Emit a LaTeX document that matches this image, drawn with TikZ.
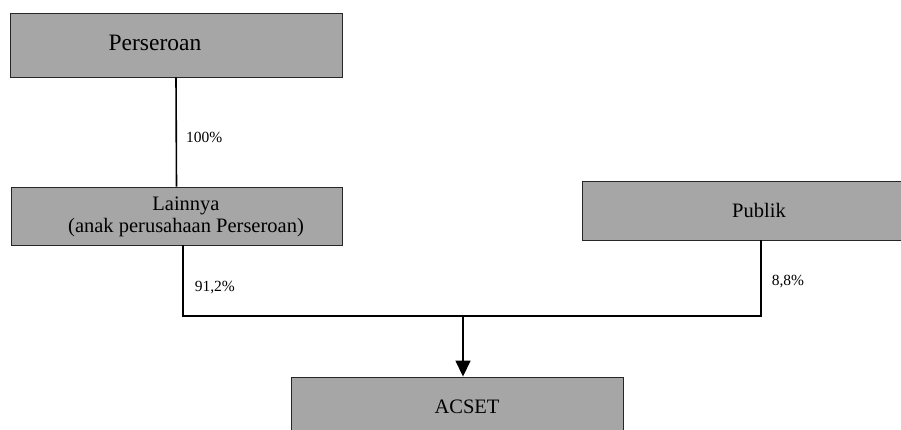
\documentclass[tikz,border=0pt]{standalone}
\usepackage{fontspec}
\setmainfont{Liberation Serif}
\usetikzlibrary{positioning,arrows.meta}
\definecolor{boxgray}{HTML}{A6A6A6}
\tikzset{
  entity/.style={draw=black!85,fill=boxgray,line width=0.9pt,inner sep=0pt},
  entitytext/.style={inner sep=0pt,align=center,font=\fontsize{20.5}{22}\selectfont},
  share/.style={inner sep=0pt,anchor=west,font=\fontsize{15.5}{18}\selectfont},
  link/.style={line width=1.6pt}
}

\begin{document}
\begin{tikzpicture}[x=1pt,y=-1pt]
\clip (0,0) rectangle (901,430);
% boxes
\node[entity,minimum width=332pt,minimum height=64pt] (pers) at (176,45) {};
\node[entitytext,font=\fontsize{23.5}{26}\selectfont] (perstext) at (155,43) {Perseroan};
\node[entity,minimum width=331pt,minimum height=58pt] (lain) at (176.5,216) {};
\node[entitytext] (laintext) at (186,217) {Lainnya\\(anak perusahaan Perseroan)};
\node[entity,entitytext,minimum width=354pt,minimum height=59pt] (pub) at (759,210.5) {Publik};
\node[entity,minimum width=332pt,minimum height=62pt] (acset) at (457,408) {};
\node[entitytext] (acsettext) at (467,407) {ACSET};
% connectors
\coordinate (bus) at (463,316);
\coordinate (lainfoot) at ([xshift=6.5pt]lain.south);
\coordinate (pubfoot) at ([xshift=2pt]pub.south);
\draw[link] (pers.south) -- node[share,pos=0.55,right=9pt] {100\%} (lain.north);
\draw[link] (lainfoot) -- node[share,pos=0.59,right=11pt] {91,2\%} (lainfoot |- bus)
  -- (pubfoot |- bus) -- node[share,pos=0.45,right=10pt] {8,8\%} (pubfoot);
\draw[link,-{Triangle[length=16pt,width=15pt]}] (bus) -- (bus |- acset.north);
\end{tikzpicture}
\end{document}
